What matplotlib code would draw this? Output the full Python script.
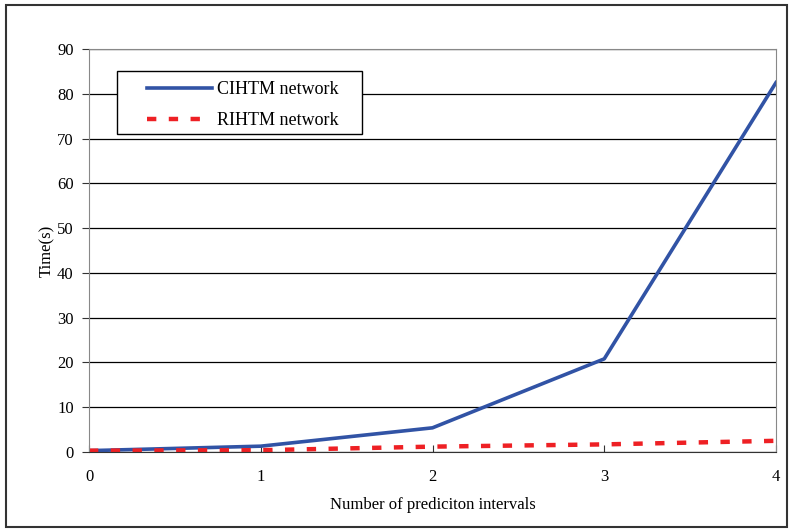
import matplotlib
matplotlib.use("Agg")
import matplotlib.pyplot as plt
from matplotlib.patches import Rectangle

intervals = [0, 1, 2, 3, 4]
cihtm = [0.3, 1.3, 5.4, 20.8, 82.5]
rihtm = [0.3, 0.4, 1.2, 1.7, 2.5]

plt.rcParams['font.family'] = ['Liberation Serif', 'DejaVu Serif']

fig = plt.figure(figsize=(7.94, 5.30), dpi=100)
fig.patches.append(Rectangle((6 / 794, 3 / 530), 781 / 794, 522 / 530, transform=fig.transFigure,
                             fill=False, edgecolor='#333333', linewidth=1.5))
ax = fig.add_axes([89 / 794, 78 / 530, 687 / 794, 403 / 530])

ax.plot(intervals, cihtm, color='#3153A5', linewidth=2.6, label='CIHTM network')
ax.plot(intervals, rihtm, color='#EE2024', linewidth=3.2, dashes=(2.1, 2.8), label='RIHTM network')

ax.set_xlim(0, 4)
ax.set_ylim(0, 90)
ax.set_xticks(intervals)
ax.set_yticks(range(0, 91, 10))
ax.yaxis.grid(True, color='black', linewidth=0.9)
ax.set_axisbelow(True)
for s in ax.spines.values():
    s.set_color('#888888')
ax.spines['bottom'].set_color('#333333')
ax.tick_params(axis='x', direction='in', length=5, labelsize=12, pad=12, color='#333333')
ax.tick_params(axis='y', direction='out', length=5, labelsize=12, pad=6, color='#333333')
ax.set_xlabel('Number of prediciton intervals', fontsize=12, labelpad=9)
ax.set_ylabel('Time(s)', fontsize=12, labelpad=1.5)

# legend box drawn separately so the inner padding matches the reference
ax.add_patch(Rectangle((28 / 687, 318 / 403), 245 / 687, 63 / 403, transform=ax.transAxes,
                       facecolor='white', edgecolor='black', linewidth=1.0, zorder=4))
leg = ax.legend(loc='upper left', bbox_to_anchor=(58 / 687, 371 / 403), fontsize=13,
                frameon=False, handlelength=3.6, handletextpad=0.25,
                borderpad=0, labelspacing=0.78, borderaxespad=0)
leg.set_zorder(5)

fig.savefig('out.png', dpi=100)
